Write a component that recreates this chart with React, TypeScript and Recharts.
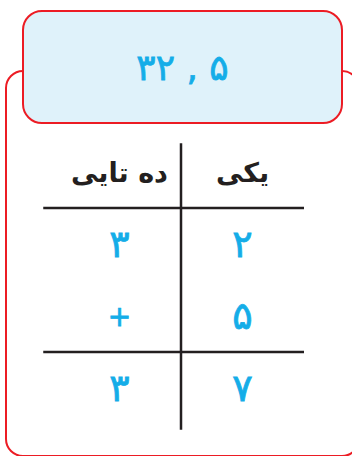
import { ReferenceLine, Scatter, ScatterChart, XAxis, YAxis } from 'recharts'

// place-value table: tens column on the left, ones on the right
const columns = ['ده تایی', 'یکی']
const tensDigits = ['۳', '+', '۳']
const onesDigits = ['۲', '۵', '۷']
const title = '۳۲ , ۵'

const RED = '#ec1c24'
const CYAN = '#14ade8'
const INK = '#231f20'
const FONT = '"DejaVu Sans", sans-serif'

type Cell = { col: number; row: number; label: string; header: boolean }

const cells: Cell[] = [
  ...columns.map((label, i) => ({ col: i + 0.5, row: 0.5, label, header: true })),
  ...tensDigits.map((label, i) => ({ col: 0.5, row: i + 1.5, label, header: false })),
  ...onesDigits.map((label, i) => ({ col: 1.5, row: i + 1.5, label, header: false })),
]

function CellText(props: any) {
  const { cx, cy, payload } = props
  const header = payload.header
  const sign = payload.label === '+'
  return (
    <text
      x={cx}
      y={cy}
      textAnchor="middle"
      dominantBaseline="central"
      fontFamily={FONT}
      fontSize={header ? 27 : sign ? 28 : 38}
      fontWeight={header ? 700 : 400}
      fill={header ? INK : CYAN}
      stroke={header ? 'none' : CYAN}
      strokeWidth={header ? 0 : 0.8}
      direction={header ? 'rtl' : 'ltr'}
    >
      {payload.label}
    </text>
  )
}

export default function App() {
  return (
    <div style={{ position: 'fixed', left: 0, top: 0, width: 352, height: 456, overflow: 'hidden', background: '#fff' }}>
      <div
        style={{
          position: 'absolute', left: 5, top: 70, width: 355, height: 387,
          border: `2.5px solid ${RED}`, borderRadius: 18, boxSizing: 'border-box',
        }}
      />
      <div
        style={{
          position: 'absolute', left: 22, top: 10, width: 321, height: 114,
          border: `2.5px solid ${RED}`, borderRadius: 20, boxSizing: 'border-box',
          background: '#dff2fa', display: 'flex', alignItems: 'center', justifyContent: 'center',
          color: CYAN, fontFamily: FONT, fontSize: 36, fontWeight: 400, direction: 'ltr',
          WebkitTextStroke: `0.8px ${CYAN}`,
        }}
      >
        {title}
      </div>
      <div style={{ position: 'absolute', left: 0, top: 0 }}>
        <ScatterChart width={352} height={456} margin={{ top: 136, right: 48, bottom: 32, left: 58 }}>
          <XAxis type="number" dataKey="col" domain={[0, 2]} hide />
          <YAxis type="number" dataKey="row" domain={[0, 4]} reversed hide />
          <ReferenceLine segment={[{ x: -0.12, y: 1 }, { x: 2, y: 1 }]} stroke={INK} strokeWidth={2.5} ifOverflow="visible" />
          <ReferenceLine segment={[{ x: -0.12, y: 3 }, { x: 2, y: 3 }]} stroke={INK} strokeWidth={2.5} ifOverflow="visible" />
          <ReferenceLine segment={[{ x: 1, y: 0.1 }, { x: 1, y: 4.08 }]} stroke={INK} strokeWidth={2.5} ifOverflow="visible" />
          <Scatter data={cells} shape={CellText} isAnimationActive={false} />
        </ScatterChart>
      </div>
    </div>
  )
}
